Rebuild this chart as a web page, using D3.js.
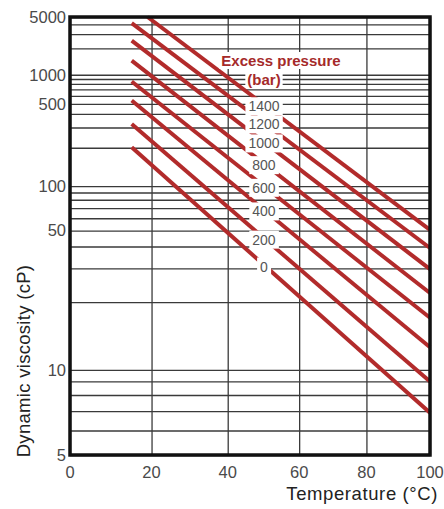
<!DOCTYPE html>
<html><head><meta charset="utf-8">
<script src="https://cdn.jsdelivr.net/npm/d3@7"></script>
<style>body{margin:0;background:#fff}svg{display:block;font-family:"Liberation Sans",Arial,sans-serif}</style>
</head><body><svg id="c" width="444" height="509"></svg>
<script>
// ---- data ----
const xTicks = [0, 20, 40, 60, 80, 100];
const yTickLabels = [5, 10, 50, 100, 500, 1000, 5000];
const yGrid = [5,6,7,8,9,10,20,30,40,50,60,70,80,90,100,200,300,400,500,600,700,800,900,1000,2000,3000,4000,5000];
const pressures = [0, 200, 400, 600, 800, 1000, 1200, 1400];
const startTemp = [15, 15, 15, 15, 15, 15, 15, 19];
const startVisc = [202, 323, 539, 845, 1440, 2490, 4140, 5000];
const endTemp = [100, 100, 100, 100, 100, 100, 100, 100];
const endVisc = [6.9, 9.0, 12.4, 16.8, 22.2, 29.7, 39.2, 50.5];
const labelTemp = 50;

// ---- layout ----
const L = 70, R = 430, T = 17, B = 455;
const svg = d3.select("#c");

// Temperature axis: log of absolute temperature (Walther chart)
const xs = d3.scaleLog().domain([273.15, 373.15]).range([L, R]);
const X = t => xs(t + 273.15);
// Viscosity axis: log(log(v + 0.7))
const W = v => Math.log10(Math.log10(v + 0.7));
const ys = d3.scaleLinear().domain([W(5), W(5000)]).range([B, T]);
const Y = v => ys(W(v));

// grid
const gGrid = svg.append("g");
gGrid.append("g").attr("transform", `translate(${L},0)`)
  .call(d3.axisLeft(ys).tickValues(yGrid.map(W)).tickSize(-(R - L)).tickFormat(""))
  .call(g => g.select(".domain").remove())
  .call(g => g.selectAll("line").attr("stroke", "#3a3a3a").attr("stroke-width", 1.3));
gGrid.append("g").attr("transform", `translate(0,${B})`)
  .call(d3.axisBottom(xs).tickValues(xTicks.map(t => t + 273.15)).tickSize(-(B - T)).tickFormat(""))
  .call(g => g.select(".domain").remove())
  .call(g => g.selectAll("line").attr("stroke", "#3a3a3a").attr("stroke-width", 1.3));

// pressure lines
const line = d3.line().x(d => X(d.t)).y(d => Y(d.v));
const series = pressures.map((p, i) => ({p, pts: [{t: startTemp[i], v: startVisc[i]}, {t: endTemp[i], v: endVisc[i]}]}));
svg.append("g").selectAll("path").data(series).join("path")
  .attr("d", d => line(d.pts)).attr("fill", "none")
  .attr("stroke", "#b22b2b").attr("stroke-width", 4);

// frame
svg.append("rect").attr("x", L).attr("y", T).attr("width", R - L).attr("height", B - T)
  .attr("fill", "none").attr("stroke", "#111").attr("stroke-width", 3.5);

// label helper with white background
function bgText(g, x, y, txt, attrs, pad) {
  const t = g.append("text").attr("x", x).attr("y", y).text(txt);
  for (const k in attrs) t.attr(k, attrs[k]);
  const bb = t.node().getBBox();
  g.insert("rect", () => t.node())
    .attr("x", bb.x - pad[0]).attr("y", bb.y - pad[1])
    .attr("width", bb.width + 2 * pad[0]).attr("height", bb.height + 2 * pad[1])
    .attr("fill", "#fff");
}

const gLab = svg.append("g");
series.forEach(s => {
  const a = s.pts[0], b = s.pts[1];
  const xa = X(a.t), xb = X(b.t), ya = Y(a.v), yb = Y(b.v);
  const xl = X(labelTemp);
  const yl = ya + (yb - ya) * (xl - xa) / (xb - xa);
  bgText(gLab.append("g"), xl, yl + 1.5, String(s.p),
    {"text-anchor": "middle", "dominant-baseline": "central", "font-size": 14, fill: "#555"}, [3, 1]);
});
bgText(gLab.append("g"), X(labelTemp) + 17, 66, "Excess pressure",
  {"text-anchor": "middle", "font-size": 15, "font-weight": "bold", fill: "#a52a2a"}, [2, 0]);
bgText(gLab.append("g"), X(labelTemp), 85, "(bar)",
  {"text-anchor": "middle", "font-size": 15, "font-weight": "bold", fill: "#a52a2a"}, [2, 0]);

// tick labels
svg.append("g").selectAll("text").data(yTickLabels).join("text")
  .attr("x", 66).attr("y", d => Y(d)).attr("dy", "0.35em")
  .attr("text-anchor", "end").attr("font-size", 16.5).attr("fill", "#4a4a4a").text(d => d);
svg.append("g").selectAll("text").data(xTicks).join("text")
  .attr("x", d => X(d)).attr("y", 478)
  .attr("text-anchor", "middle").attr("font-size", 16.5).attr("fill", "#4a4a4a").text(d => d);

// axis titles
svg.append("text").attr("x", 438).attr("y", 500).attr("text-anchor", "end")
  .attr("font-size", 18.5).attr("letter-spacing", 0.6).attr("fill", "#222").text("Temperature (°C)");
svg.append("text").attr("transform", "translate(29.5,361) rotate(-90)").attr("text-anchor", "middle")
  .attr("font-size", 18.5).attr("letter-spacing", 0.3).attr("fill", "#222").text("Dynamic viscosity (cP)");
</script></body></html>
